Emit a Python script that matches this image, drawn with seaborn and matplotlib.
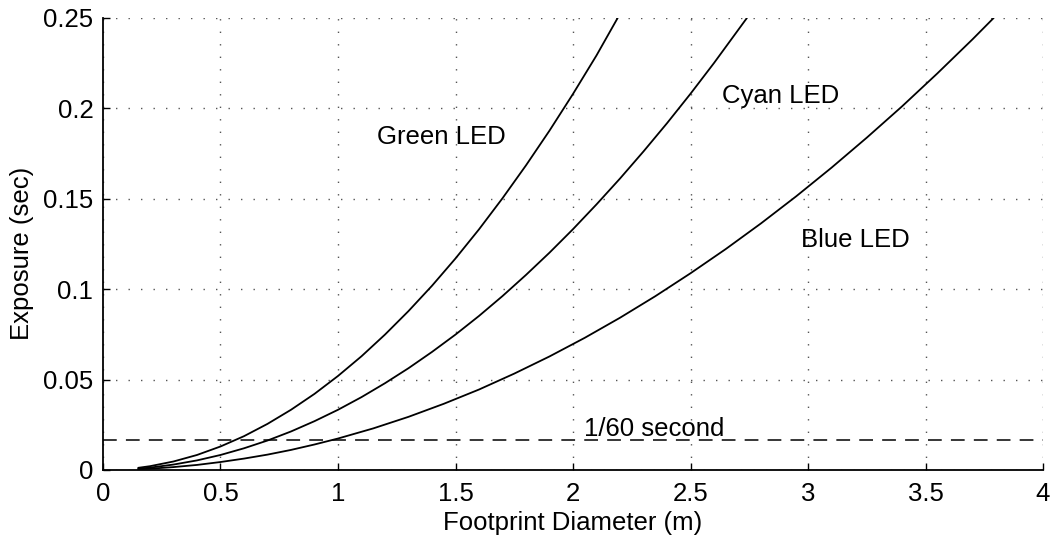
import pandas as pd
import seaborn as sns
import matplotlib.pyplot as plt

# values
green_x = [0.15, 0.2, 0.3, 0.4, 0.5, 0.6, 0.7, 0.8, 0.9, 1.0, 1.1, 1.2, 1.3, 1.4, 1.5,
           1.6, 1.7, 1.8, 1.9, 2.0, 2.1, 2.19]
green_y = [0.0012, 0.0021, 0.0047, 0.0083, 0.013, 0.0187, 0.0255, 0.0333, 0.0421, 0.052,
           0.0629, 0.0749, 0.0879, 0.1019, 0.117, 0.1331, 0.1503, 0.1685, 0.1877, 0.208,
           0.2293, 0.25]
cyan_x = [0.15, 0.2, 0.3, 0.4, 0.5, 0.6, 0.7, 0.8, 0.9, 1.0, 1.1, 1.2, 1.3, 1.4, 1.5,
          1.6, 1.7, 1.8, 1.9, 2.0, 2.1, 2.2, 2.3, 2.4, 2.5, 2.6, 2.74]
cyan_y = [0.00075, 0.0013, 0.003, 0.0053, 0.0083, 0.012, 0.0163, 0.0213, 0.027, 0.0333,
          0.0403, 0.048, 0.0563, 0.0653, 0.0749, 0.0852, 0.0962, 0.1079, 0.1202, 0.1332,
          0.1469, 0.1612, 0.1762, 0.1918, 0.2081, 0.2251, 0.25]
blue_x = [0.15, 0.2, 0.3, 0.4, 0.5, 0.6, 0.7, 0.8, 0.9, 1.0, 1.15, 1.3, 1.45, 1.6, 1.75,
          1.9, 2.05, 2.2, 2.35, 2.5, 2.65, 2.8, 2.95, 3.1, 3.25, 3.4, 3.55, 3.7, 3.79]
blue_y = [0.0004, 0.0007, 0.0016, 0.0028, 0.0044, 0.0063, 0.0085, 0.0111, 0.0141, 0.0174,
          0.023, 0.0294, 0.0366, 0.0445, 0.0533, 0.0628, 0.0731, 0.0842, 0.0961, 0.1088,
          0.1222, 0.1364, 0.1514, 0.1672, 0.1838, 0.2011, 0.2193, 0.2382, 0.25]
threshold = 1 / 60

x_ticks = [0, 0.5, 1, 1.5, 2, 2.5, 3, 3.5, 4]
x_ticklabels = ['0', '0.5', '1', '1.5', '2', '2.5', '3', '3.5', '4']
y_ticks = [0, 0.05, 0.1, 0.15, 0.2, 0.25]
y_ticklabels = ['0', '0.05', '0.1', '0.15', '0.2', '0.25']

df = pd.concat([
    pd.DataFrame({'d': green_x, 'exp': green_y, 'led': 'Green LED'}),
    pd.DataFrame({'d': cyan_x, 'exp': cyan_y, 'led': 'Cyan LED'}),
    pd.DataFrame({'d': blue_x, 'exp': blue_y, 'led': 'Blue LED'}),
])

sns.set_style('ticks')
plt.rcParams['font.family'] = ['Liberation Sans', 'DejaVu Sans']
plt.rcParams.update({'text.color': 'black', 'axes.labelcolor': 'black',
                     'xtick.color': 'black', 'ytick.color': 'black'})
fs = 18.5

fig = plt.figure(figsize=(10.51, 5.37), dpi=100)
ax = fig.add_axes([0.098, 0.1248, 0.8944, 0.8417])

sns.lineplot(data=df, x='d', y='exp', units='led', estimator=None, color='black',
             lw=1.3, sort=False, ax=ax)
ax.axhline(threshold, color='black', lw=1.1, dashes=(9, 6))

ax.text(1.44, 0.184, 'Green LED', fontsize=fs, ha='center', va='center')
ax.text(2.885, 0.207, 'Cyan LED', fontsize=fs, ha='center', va='center')
ax.text(3.2, 0.127, 'Blue LED', fontsize=fs, ha='center', va='center')
ax.text(2.345, 0.0162, '1/60 second', fontsize=fs, ha='center', va='bottom')

ax.set(xlim=(0, 4), ylim=(0, 0.25))
ax.set_xticks(x_ticks, x_ticklabels)
ax.set_yticks(y_ticks, y_ticklabels)
ax.tick_params(direction='in', length=5, width=1, labelsize=fs, color='black',
               labelcolor='black')
ax.tick_params(axis='x', pad=9)
ax.tick_params(axis='y', pad=7)
ax.grid(True, ls=(0, (1, 8)), color='#555555', lw=1.0)
sns.despine(ax=ax)
for s in ['left', 'bottom']:
    ax.spines[s].set_linewidth(1.3)
    ax.spines[s].set_color('black')
ax.set_xlabel('Footprint Diameter (m)', fontsize=fs, labelpad=3)
ax.set_ylabel('Exposure (sec)', fontsize=fs)
ax.yaxis.set_label_coords(-0.073, 0.48)

fig.savefig('out.png', dpi=100)
plt.close()
